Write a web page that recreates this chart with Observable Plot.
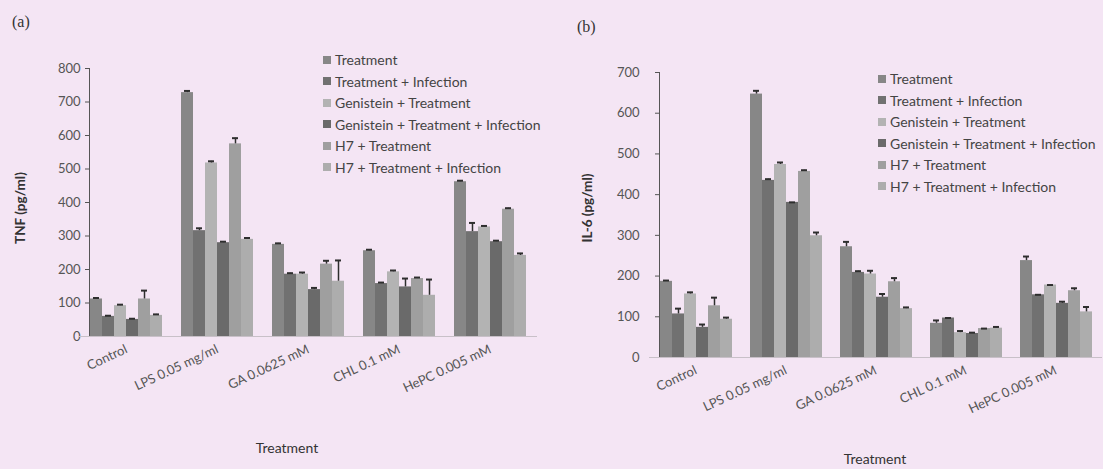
<!DOCTYPE html>
<html><head><meta charset="utf-8">
<script src="https://cdn.jsdelivr.net/npm/d3@7"></script>
<script src="https://cdn.jsdelivr.net/npm/@observablehq/plot@0.6"></script>
<style>
html,body{margin:0;padding:0;background:#f4e5f4;}
#wrap{position:relative;width:1103px;height:469px;overflow:hidden;background:#f4e5f4;font-family:Lato,"Open Sans",sans-serif;}
.panel{position:absolute;top:0;}
.tag{position:absolute;font-family:"Liberation Serif",serif;font-size:16px;color:#333;line-height:1;}
.ytitle{position:absolute;font-size:13.5px;font-weight:bold;color:#333;white-space:nowrap;transform:translate(-50%,-50%) rotate(-90deg);}
.xtitle{position:absolute;font-size:14px;color:#333;white-space:nowrap;transform:translate(-50%,-50%);}
.legend{position:absolute;font-size:14px;color:#444;line-height:21.5px;white-space:nowrap;}
.legend .row{display:flex;align-items:center;}
.legend .sw{display:inline-block;width:8px;height:8px;margin-right:4px;}
</style></head>
<body><div id="wrap"></div>
<script>
const categories = ["Control","LPS 0.05 mg/ml","GA 0.0625 mM","CHL 0.1 mM","HePC 0.005 mM"];
const series = ["Treatment","Treatment + Infection","Genistein + Treatment","Genistein + Treatment + Infection","H7 + Treatment","H7 + Treatment + Infection"];
const colors = ["#878787","#717171","#b3b3b3","#6a6a6a","#9f9f9f","#adadad"];

// TNF (pg/ml): rows = categories, columns = series
const tnfValues = [
  [112, 60, 92, 51, 112, 63],
  [728, 316, 518, 280, 575, 290],
  [275, 186, 186, 140, 216, 165],
  [256, 158, 193, 148, 173, 123],
  [462, 313, 327, 283, 380, 242]
];
const tnfErrors = [
  [3, 2, 3, 2, 25, 3],
  [5, 7, 5, 3, 17, 4],
  [3, 3, 5, 5, 10, 62],
  [3, 3, 4, 25, 3, 47],
  [3, 26, 3, 3, 3, 6]
];
// IL-6 (pg/ml)
const il6Values = [
  [187, 107, 156, 74, 127, 94],
  [647, 435, 474, 381, 457, 299],
  [272, 209, 205, 148, 186, 120],
  [84, 97, 61, 59, 71, 72],
  [238, 154, 178, 133, 164, 112]
];
const il6Errors = [
  [2, 13, 4, 7, 20, 4],
  [8, 3, 5, 0, 3, 8],
  [12, 3, 8, 8, 9, 3],
  [7, 0, 4, 2, 0, 3],
  [10, 0, 0, 4, 6, 12]
];
const tnfTicks = [0,100,200,300,400,500,600,700,800];
const il6Ticks = [0,100,200,300,400,500,600,700];

function rowsOf(values, errs){
  const rows = [];
  categories.forEach((c,i)=>series.forEach((s,j)=>rows.push({category:c, series:s, value:values[i][j], err:errs[i][j]})));
  return rows;
}

function panel(values, errs, yMax, ticks, o){
  const rows = rowsOf(values, errs);
  const withErr = rows.filter(d=>d.err>0);
  return Plot.plot({
    width:o.width, height:469,
    marginLeft:o.ml, marginRight:o.mr, marginTop:o.mt, marginBottom:o.mb,
    style:{background:"transparent", fontFamily:"Lato, sans-serif", fontSize:"13px", color:"#555", overflow:"visible"},
    fx:{domain:categories, paddingInner:0.19, paddingOuter:o.po, label:null, axis:"bottom", tickRotate:-25, tickSize:0, tickPadding:o.fxPad, fontSize:"13.5px"},
    x:{domain:series, padding:0, axis:null},
    y:{domain:[0,yMax], ticks:ticks, tickSize:4, tickPadding:o.yPad, label:null, line:true, fontSize:"14.5px"},
    color:{domain:series, range:colors},
    marks:[
      Plot.barY(rows,{fx:"category", x:"series", y:"value", fill:"series"}),
      Plot.ruleX(withErr,{fx:"category", x:"series", y1:"value", y2:d=>d.value+d.err, stroke:"#2e2e2e", strokeWidth:1.5}),
      Plot.tickY(rows,{fx:"category", x:"series", y:d=>d.value+d.err, stroke:"#2e2e2e", strokeWidth:2, insetLeft:3, insetRight:3}),
      Plot.ruleY([0],{stroke:"#c8c0c8", strokeWidth:1, insetLeft:-10, insetRight:-10})
    ]
  });
}

const wrap = d3.select("#wrap");

const a = panel(tnfValues, tnfErrors, 800, tnfTicks, {width:545, ml:77, mr:7, mt:68, mb:133, po:0.12, fxPad:12, yPad:5});
const b = panel(il6Values, il6Errors, 700, il6Ticks, {width:558, ml:102, mr:0, mt:72, mb:112, po:0.11, fxPad:12, yPad:16});
d3.select(a).attr("class","panel").style("left","0px");
d3.select(b).attr("class","panel").style("left","545px");
wrap.node().append(a, b);
wrap.selectAll("svg [aria-label='y-axis line'], svg [aria-label='y-axis tick']").attr("stroke","#bbb");

function addText(cls, txt, x, y){
  wrap.append("div").attr("class",cls).style("left",x+"px").style("top",y+"px").text(txt);
}
wrap.append("div").attr("class","tag").style("left","12px").style("top","14px").text("(a)");
wrap.append("div").attr("class","tag").style("left","577px").style("top","19px").text("(b)");
addText("ytitle","TNF (pg/ml)",20,208);
addText("ytitle","IL-6 (pg/ml)",587,208);
addText("xtitle","Treatment",287,447);
addText("xtitle","Treatment",875,458);

function legend(x, y){
  const lg = wrap.append("div").attr("class","legend").style("left",x+"px").style("top",y+"px");
  series.forEach((s,i)=>{
    const r = lg.append("div").attr("class","row");
    r.append("span").attr("class","sw").style("background",colors[i]);
    r.append("span").text(s);
  });
}
legend(323, 49);
legend(878, 68);
</script>
</body></html>
